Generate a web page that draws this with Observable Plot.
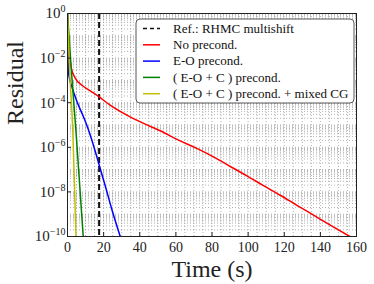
<!DOCTYPE html>
<html><head><meta charset="utf-8">
<script src="https://cdn.jsdelivr.net/npm/d3@7"></script>
<script src="https://cdn.jsdelivr.net/npm/@observablehq/plot@0.6"></script>
<style>body{margin:0;background:#fff}</style>
</head><body><div id="chart"></div>
<script>
// ---- data (time in s, residual as log10 exponent) ----
const legendLabels = ["Ref.: RHMC multishift", "No precond.", "E-O precond.", "( E-O + C ) precond.", "( E-O + C ) precond. + mixed CG"];
const seriesColors = ["#111111", "#ff0000", "#0000ff", "#008000", "#bfbf00"];
const refTime = [17.5];

const noPrecondT   = [0, 0.3, 0.55, 1.1, 2.0, 4.3, 8, 12.6, 17.5, 23.6, 32.9, 42.1, 51.3, 61.5, 71.6, 80.8, 90.1, 99.3, 108.5, 117.8, 127.0, 136.2, 145.5, 156.3];
const noPrecondLog = [0, -0.6, -1.2, -1.8, -2.4, -2.9, -3.22, -3.47, -3.74, -4.11, -4.56, -4.93, -5.26, -5.68, -6.05, -6.43, -6.86, -7.28, -7.72, -8.15, -8.6, -9.04, -9.49, -10.0];
const eoT   = [0, 0.3, 0.55, 1.2, 2.4, 4.3, 6.5, 8.9, 11.2, 13.5, 17.5, 21.0, 24.6, 29.2];
const eoLog = [0, -1.8, -2.62, -2.95, -3.29, -3.74, -4.2, -4.64, -5.12, -5.68, -6.78, -7.76, -8.8, -10.0];
const eocT   = [0, 2.0, 4.8, 8.7];
const eocLog = [0, -2.4, -5.4, -10.0];
const mixedT   = [0, 1.1, 3.0, 4.7];
const mixedLog = [0, -2.4, -5.4, -10.0];

const xTicks = d3.range(0, 161, 20);
const xGrid = d3.range(0, 161, 5);
const yTicks = [1, 1e-2, 1e-4, 1e-6, 1e-8, 1e-10];
const yGrid = [1].concat(d3.range(-10, 0).flatMap(e => d3.range(1, 10).map(k => k * Math.pow(10, e))));

// ---- table ----
const seriesDefs = [
  [legendLabels[1], noPrecondT, noPrecondLog],
  [legendLabels[2], eoT, eoLog],
  [legendLabels[3], eocT, eocLog],
  [legendLabels[4], mixedT, mixedLog]
];
const table = seriesDefs.flatMap(([name, ts, ls]) => ts.map((t, i) => ({series: name, t, r: Math.pow(10, ls[i])})));

const gridStyle = {stroke: "#808080", strokeOpacity: 1, strokeWidth: 0.6, strokeDasharray: "1,2"};

const chart = Plot.plot({
  width: 374, height: 284,
  marginLeft: 67, marginRight: 18, marginTop: 13, marginBottom: 48,
  style: {fontFamily: "Liberation Serif", fontSize: "14px", background: "#fff", color: "#222"},
  x: {domain: [0, 160]},
  y: {type: "log", domain: [1e-10, 1]},
  color: {domain: legendLabels.slice(1), range: seriesColors.slice(1)},
  marks: [
    Plot.gridX(xGrid, gridStyle),
    Plot.gridY(yGrid, gridStyle),
    Plot.ruleX(refTime, {stroke: seriesColors[0], strokeWidth: 2, strokeDasharray: "6,3"}),
    Plot.line(table, {x: "t", y: "r", z: "series", stroke: "series", strokeWidth: 1.5, curve: "monotone-x", clip: true}),
    Plot.frame({stroke: "#222"}),
    Plot.axisX(xTicks, {tickSize: -4, tickPadding: 10, fontSize: 14, label: null}),
    Plot.axisY(yTicks, {tickSize: -4, tickPadding: 6, fontSize: 15, label: null,
      tickFormat: d => "10^" + Math.round(Math.log10(d))}),
    Plot.text(["Time (s)"], {frameAnchor: "bottom", dy: 33, fontSize: 24, lineAnchor: "middle"}),
    Plot.text(["Residual"], {frameAnchor: "left", dx: -52, rotate: -90, fontSize: 24, lineAnchor: "middle"})
  ]
});
document.getElementById("chart").appendChild(chart);

// superscript exponents on y tick labels
d3.select(chart).selectAll('g[aria-label="y-axis tick label"] text').each(function() {
  const s = this.textContent;
  if (!s.startsWith("10^")) return;
  const e = s.slice(3).replace("-", "\u2212");
  const t = d3.select(this);
  t.text(null);
  t.append("tspan").text("10");
  t.append("tspan").attr("dy", "-6").attr("font-size", "10px").text(e);
});

// legend
const svg = d3.select(chart);
const lg = svg.append("g").attr("font-family", "Liberation Serif").attr("font-size", "13px").attr("text-anchor", "start");
lg.append("rect").attr("x", 136).attr("y", 19).attr("width", 218).attr("height", 84)
  .attr("rx", 4).attr("fill", "#fff").attr("stroke", "#444").attr("stroke-width", 0.9);
legendLabels.forEach((lab, i) => {
  const y = 28.5 + i * 16.3;
  lg.append("line").attr("x1", 143).attr("x2", 160).attr("y1", y).attr("y2", y)
    .attr("stroke", seriesColors[i]).attr("stroke-width", 1.5)
    .attr("stroke-dasharray", i === 0 ? "4,3" : null);
  lg.append("text").attr("x", 173).attr("y", y).attr("dy", "0.32em").attr("text-anchor", "start").attr("fill", "#111").text(lab);
});
</script>
</body></html>
